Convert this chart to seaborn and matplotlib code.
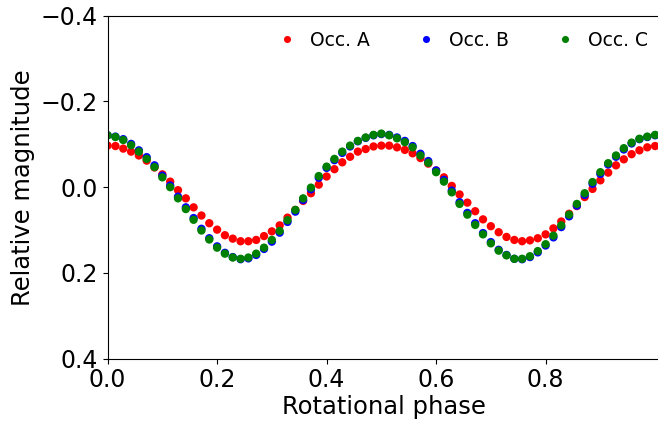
import numpy as np
import pandas as pd
import matplotlib
matplotlib.use("Agg")
import matplotlib.pyplot as plt
import seaborn as sns

phase = [0.0, 0.0143, 0.0286, 0.0429, 0.0571, 0.0714, 0.0857,
         0.1, 0.1143, 0.1286, 0.1429, 0.1571, 0.1714, 0.1857,
         0.2, 0.2143, 0.2286, 0.2429, 0.2571, 0.2714, 0.2857,
         0.3, 0.3143, 0.3286, 0.3429, 0.3571, 0.3714, 0.3857,
         0.4, 0.4143, 0.4286, 0.4429, 0.4571, 0.4714, 0.4857,
         0.5, 0.5143, 0.5286, 0.5429, 0.5571, 0.5714, 0.5857,
         0.6, 0.6143, 0.6286, 0.6429, 0.6571, 0.6714, 0.6857,
         0.7, 0.7143, 0.7286, 0.7429, 0.7571, 0.7714, 0.7857,
         0.8, 0.8143, 0.8286, 0.8429, 0.8571, 0.8714, 0.8857,
         0.9, 0.9143, 0.9286, 0.9429, 0.9571, 0.9714, 0.9857,
         1.0]

occ_a = [-0.097, -0.096, -0.090, -0.083, -0.074, -0.062, -0.046, -0.030, -0.013, 0.007,
         0.026, 0.047, 0.066, 0.084, 0.099, 0.112, 0.120, 0.126, 0.126, 0.123,
         0.114, 0.103, 0.089, 0.071, 0.053, 0.032, 0.014, -0.006, -0.025, -0.042,
         -0.058, -0.071, -0.083, -0.089, -0.095, -0.097, -0.097, -0.093, -0.087, -0.079,
         -0.068, -0.055, -0.039, -0.023, -0.003, 0.017, 0.036, 0.056, 0.075, 0.091,
         0.105, 0.116, 0.123, 0.126, 0.124, 0.119, 0.110, 0.096, 0.080, 0.062,
         0.044, 0.023, 0.004, -0.016, -0.034, -0.051, -0.065, -0.077, -0.086, -0.093,
         -0.096]

occ_b = [-0.121, -0.118, -0.112, -0.101, -0.086, -0.070, -0.051, -0.027, -0.004, 0.022,
         0.047, 0.072, 0.097, 0.119, 0.138, 0.153, 0.163, 0.168, 0.166, 0.158,
         0.144, 0.127, 0.106, 0.081, 0.057, 0.030, 0.005, -0.022, -0.045, -0.063,
         -0.080, -0.095, -0.107, -0.115, -0.121, -0.124, -0.122, -0.116, -0.108, -0.096,
         -0.078, -0.061, -0.039, -0.017, 0.008, 0.035, 0.060, 0.084, 0.107, 0.128,
         0.146, 0.158, 0.167, 0.168, 0.163, 0.152, 0.136, 0.117, 0.093, 0.068,
         0.043, 0.018, -0.008, -0.031, -0.053, -0.071, -0.088, -0.102, -0.112, -0.117,
         -0.121]

occ_c = [-0.121, -0.117, -0.110, -0.098, -0.083, -0.066, -0.047, -0.023, 0.000, 0.026,
         0.051, 0.076, 0.101, 0.122, 0.141, 0.155, 0.164, 0.167, 0.164, 0.155,
         0.141, 0.123, 0.102, 0.077, 0.053, 0.026, 0.001, -0.026, -0.048, -0.066,
         -0.083, -0.097, -0.108, -0.116, -0.122, -0.125, -0.121, -0.114, -0.105, -0.093,
         -0.074, -0.057, -0.035, -0.013, 0.012, 0.039, 0.064, 0.088, 0.110, 0.131,
         0.148, 0.159, 0.167, 0.167, 0.161, 0.149, 0.133, 0.113, 0.089, 0.064,
         0.039, 0.014, -0.012, -0.035, -0.056, -0.074, -0.091, -0.104, -0.113, -0.118,
         -0.122]

labels = ["Occ. A", "Occ. B", "Occ. C"]
colors = ["red", "blue", "green"]

df = pd.concat([
    pd.DataFrame({"phase": phase, "mag": vals, "occ": lab})
    for vals, lab in zip([occ_a, occ_b, occ_c], labels)
], ignore_index=True)

W, H = 658, 421
fig = plt.figure(figsize=(W / 100, H / 100), dpi=100)
x0_px, px_per_unit = 107.6, 547.5
xmax = 1.01
ax = fig.add_axes([x0_px / W, (H - 358.7) / H,
                   xmax * px_per_unit / W, (358.7 - 15.7) / H])

sns.scatterplot(data=df, x="phase", y="mag", hue="occ", hue_order=labels,
                palette=colors, s=36, linewidth=0, ax=ax)

ax.set_xlim(0, xmax)
ax.set_ylim(0.4, -0.4)
ax.set_xticks([0.0, 0.2, 0.4, 0.6, 0.8])
ax.set_yticks([-0.4, -0.2, 0.0, 0.2, 0.4])
ax.set_yticklabels(["\u22120.4", "\u22120.2", "0.0", "0.2", "0.4"])
ax.tick_params(labelsize=17)
ax.set_xlabel("Rotational phase", fontsize=17.5, labelpad=2)
ax.set_ylabel("Relative magnitude", fontsize=17.5)

fs = 13.5
ax.legend(ncol=3, frameon=False, fontsize=fs, loc="center left",
          bbox_to_anchor=(277.3 / W, 1 - 40 / H),
          bbox_transform=fig.transFigure, borderaxespad=0, borderpad=0,
          handlelength=1.0, handletextpad=0.74, columnspacing=2.49,
          markerscale=0.85)

fig.savefig("out.png", dpi=100)
